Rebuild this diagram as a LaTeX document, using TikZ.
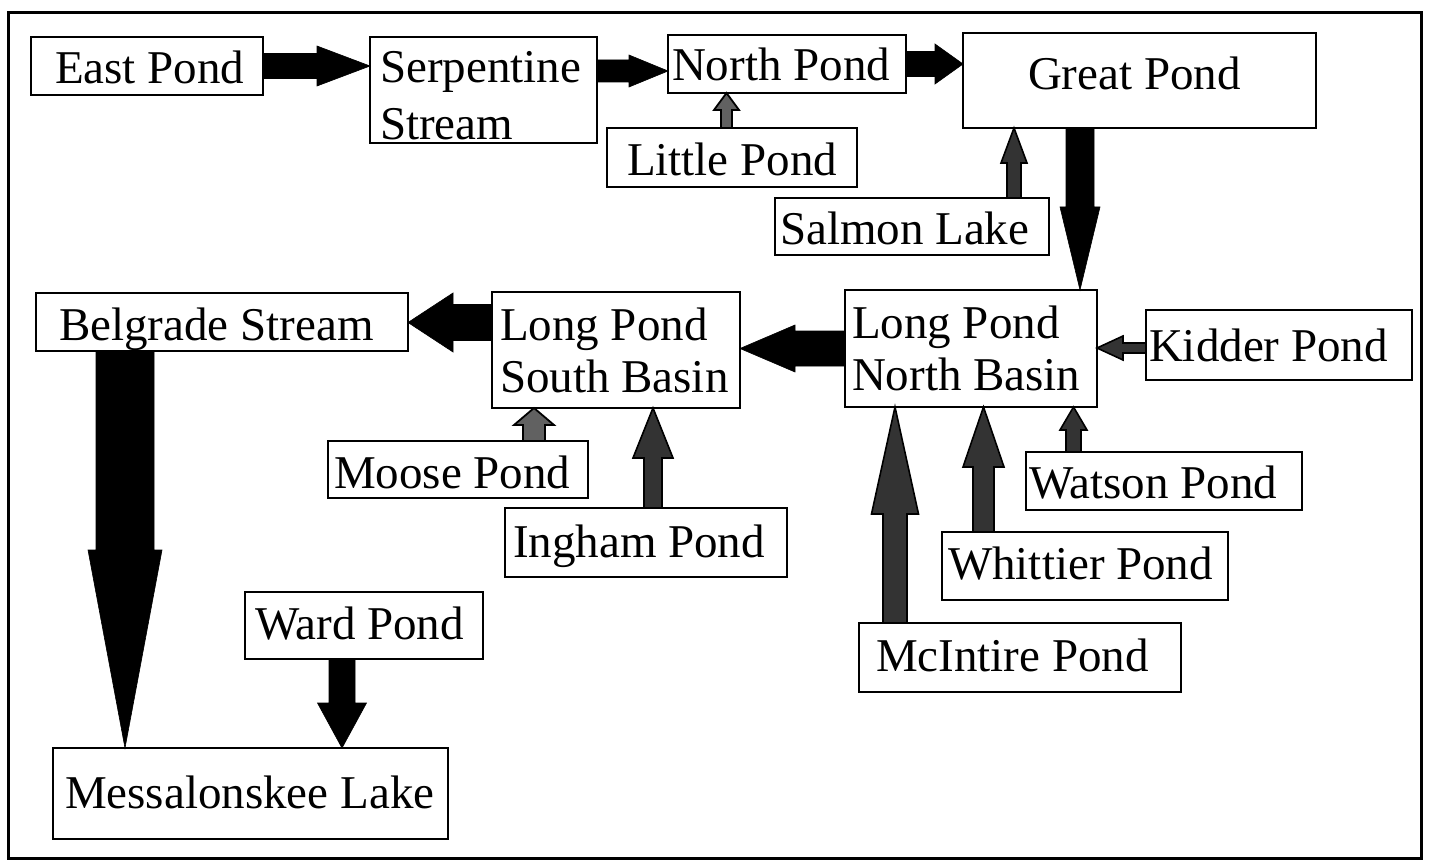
\documentclass[tikz,border=0pt]{standalone}
\usepackage{fontspec}
\setmainfont{Liberation Serif}
\usetikzlibrary{calc}
\newcommand\pondfont{\fontsize{47}{52}\selectfont}
% #1 name, #2 left, #3 top, #4 right, #5 bottom, #6 text left, #7 first baseline, #8 text
\newcommand\pond[8]{\node[pondbox, anchor=north west,
  text height=\the\dimexpr #7pt-#3pt\relax,
  text depth=\the\dimexpr #5pt-#7pt\relax] (#1) at (#2,#3)
  {\hspace*{\dimexpr #6pt-#2pt\relax}\parbox[t]{\dimexpr #4pt-#6pt\relax}{\raggedright #8}};}
% #1 style, #2 start, #3 tip, #4 direction, #5 perpendicular, #6 shaft half, #7 head half, #8 head length
\newcommand\blockarr[8][]{\filldraw[#1]
  ($(#2)+#6*(#5)$) -- ($(#3)-#8*(#4)+#6*(#5)$) -- ($(#3)-#8*(#4)+#7*(#5)$) --
  (#3) -- ($(#3)-#8*(#4)-#7*(#5)$) -- ($(#3)-#8*(#4)-#6*(#5)$) --
  ($(#2)-#6*(#5)$) -- cycle;}
\tikzset{
  pondbox/.style={draw, line width=2.8pt, fill=white, inner sep=0pt, outer sep=0pt, font=\pondfont},
  blackarr/.style={fill=black, draw=black, line width=0.6pt},
  greyarr/.style={fill=black!80, draw=black, line width=1.6pt},
  lightarr/.style={fill=black!62, draw=black, line width=1.8pt}
}
\begin{document}
\begin{tikzpicture}[x=1pt, y=-1pt]
\useasboundingbox (0,0) rectangle (1430,861);
\draw[line width=3pt] (8,13) rectangle (1421,858);

\pond{east}{31}{37}{263}{95}{55}{84}{\mbox{East Pond}}
\pond{serp}{370}{37}{597}{143}{380}{83}{\mbox{Serpentine}\\[5pt]\mbox{Stream}}
\pond{north}{668}{35}{906}{93}{672}{81}{\mbox{North Pond}}
\pond{little}{607}{128}{857}{187}{627}{176}{\mbox{Little Pond}}
\pond{great}{963}{33}{1316}{128}{1028}{90}{\mbox{Great Pond}}
\pond{salmon}{775}{198}{1049}{255}{780}{245}{\mbox{Salmon Lake}}
\pond{belgrade}{36}{293}{408}{351}{59}{340}{\mbox{Belgrade Stream}}
\pond{south}{492}{292}{740}{408}{500}{340}{\mbox{Long Pond}\\\mbox{South Basin}}
\pond{northb}{845}{290}{1097}{407}{852}{338}{\mbox{Long Pond}\\\mbox{North Basin}}
\pond{kidder}{1146}{310}{1412}{380}{1149}{361}{\mbox{Kidder Pond}}
\pond{moose}{328}{441}{588}{498}{334}{488}{\mbox{Moose Pond}}
\pond{ingham}{505}{508}{787}{577}{513}{557}{\mbox{Ingham Pond}}
\pond{watson}{1026}{452}{1302}{510}{1029}{498}{\mbox{Watson Pond}}
\pond{whittier}{942}{532}{1228}{600}{948}{579}{\mbox{Whittier Pond}}
\pond{mcintire}{859}{623}{1181}{692}{876}{671}{\mbox{McIntire Pond}}
\pond{ward}{245}{592}{483}{659}{255}{639}{\mbox{Ward Pond}}
\pond{mess}{53}{748}{448}{839}{65}{808}{\mbox{Messalonskee Lake}}

% connector start points
\coordinate (b0) at ($(serp.north east)+(0,34)$);
\coordinate (d0) at ($(little.north)+(-5.5,0)$);
\coordinate (e0) at ($(salmon.north west)+(239,0)$);
\coordinate (f0) at ($(great.south west)+(117,0)$);
\coordinate (h0) at ($(south.north west)+(0,30.5)$);
\coordinate (i0) at ($(belgrade.south west)+(89,0)$);
\coordinate (j0) at ($(moose.north west)+(206,0)$);
\coordinate (k0) at ($(ingham.north west)+(148,0)$);
\coordinate (l0) at ($(kidder.north west)+(0,38)$);
\coordinate (m0) at ($(watson.north west)+(47.5,0)$);
\coordinate (n0) at ($(whittier.north west)+(41.5,0)$);
\coordinate (o0) at ($(mcintire.north west)+(36,0)$);
\coordinate (p0) at ($(ward.south west)+(97,0)$);

% horizontal arrows
\blockarr[blackarr]{east.east}{serp.west |- east.east}{1,0}{0,1}{12.5}{20}{53}
\blockarr[blackarr]{b0}{north.west |- b0}{1,0}{0,1}{11}{16}{39}
\blockarr[blackarr]{north.east}{great.west |- north.east}{1,0}{0,1}{12.5}{20}{28}
\blockarr[blackarr]{northb.west}{south.east |- northb.west}{-1,0}{0,1}{17.5}{23.5}{55}
\blockarr[blackarr]{h0}{belgrade.east |- h0}{-1,0}{0,1}{18}{29.5}{45}
\blockarr[greyarr]{l0}{northb.east |- l0}{-1,0}{0,1}{5}{12}{26}
% vertical arrows
\blockarr[lightarr]{d0}{d0 |- north.south}{0,-1}{1,0}{5.5}{12.5}{17}
\blockarr[greyarr]{e0}{e0 |- great.south}{0,-1}{1,0}{7}{13}{35}
\blockarr[blackarr]{f0}{f0 |- northb.north}{0,1}{1,0}{14}{20}{83}
\blockarr[blackarr]{i0}{i0 |- mess.north}{0,1}{1,0}{29}{37}{198}
\blockarr[lightarr]{j0}{j0 |- south.south}{0,-1}{1,0}{11}{20}{17}
\blockarr[greyarr]{k0}{k0 |- south.south}{0,-1}{1,0}{9}{20}{50}
\blockarr[greyarr]{m0}{m0 |- northb.south}{0,-1}{1,0}{7.5}{13.5}{23}
\blockarr[greyarr]{n0}{n0 |- northb.south}{0,-1}{1,0}{10.5}{20.5}{60}
\blockarr[greyarr]{o0}{o0 |- northb.south}{0,-1}{1,0}{12}{23.5}{107}
\blockarr[blackarr]{p0}{p0 |- mess.north}{0,1}{1,0}{13}{24.5}{45}
\end{tikzpicture}
\end{document}
